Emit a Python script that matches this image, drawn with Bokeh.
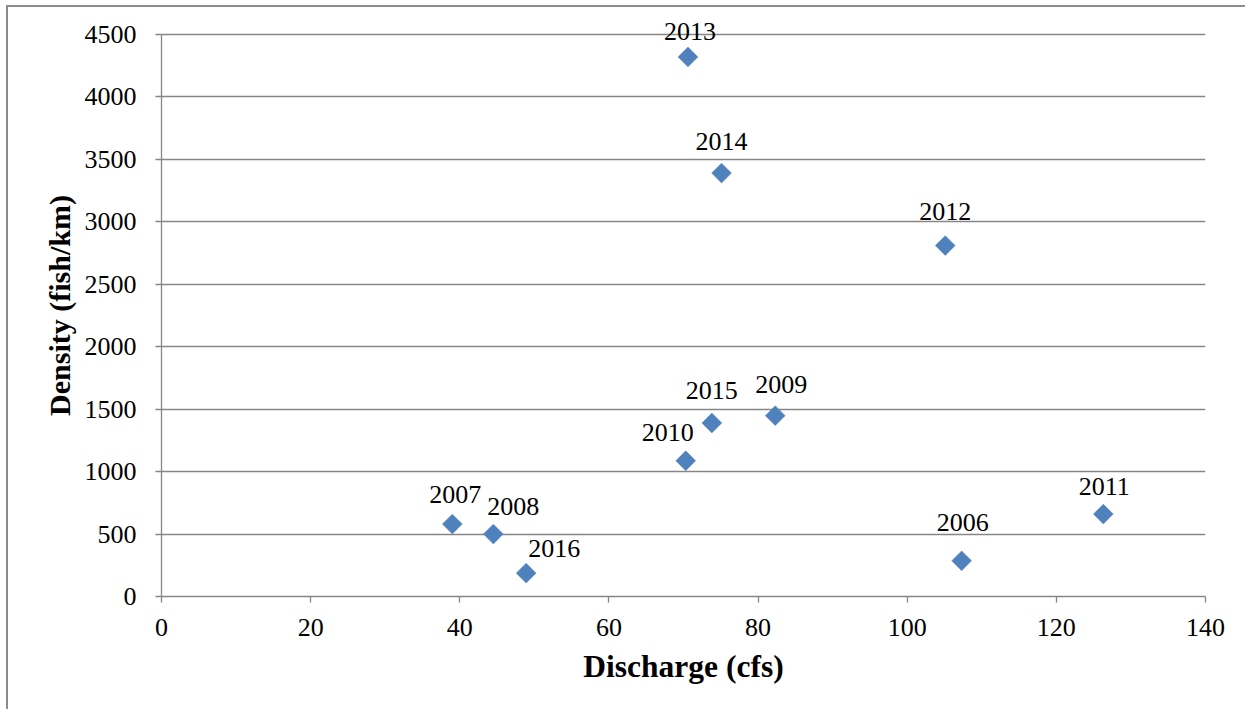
from bokeh.plotting import figure
from bokeh.models import Range1d, SingleIntervalTicker, ColumnDataSource
from bokeh.embed import file_html
from bokeh.resources import INLINE
from bokeh.core.properties import value
import math

# ---- data ----
years = ["2013", "2014", "2012", "2006", "2015", "2009", "2010", "2011", "2007", "2008", "2016"]
discharge = [70.6, 75.1, 105.1, 107.3, 73.8, 82.3, 70.3, 126.3, 39.0, 44.5, 48.9]
density = [4320, 3390, 2810, 286, 1389, 1448, 1087, 660, 580, 500, 187]

# label placement (screen pixels relative to marker, negative = up)
label_dx = [2, 0, 0, 1, 0, 6, -18, 1, 3, 20, 28]
label_dy = [-25, -32, -34, -38, -33, -31, -28, -28, -30, -28, -25]

FONT = "Liberation Serif"
GRAY = "#868686"

src = ColumnDataSource(dict(x=discharge, y=density, t=years, dx=label_dx, dy=label_dy))

# y range extends a little above 4500 so the top label is not clipped;
# the axis itself is bounded to 0..4500
p = figure(width=1245, height=709, output_backend="svg", toolbar_location=None,
           x_range=Range1d(0, 140), y_range=Range1d(0, 4660),
           min_border_left=161, min_border_right=40, min_border_top=14, min_border_bottom=113,
           border_fill_color=None, background_fill_color=None)

p.styles = {
    "background": "linear-gradient(#8c8c8c,#8c8c8c) 6px 5px / 2px 100% no-repeat, "
                  "linear-gradient(#8c8c8c,#8c8c8c) 6px 5px / 100% 2px no-repeat, white",
}

p.outline_line_color = None
p.xgrid.grid_line_color = None
p.ygrid.grid_line_color = GRAY
p.ygrid.grid_line_width = 1.3

p.xaxis.ticker = SingleIntervalTicker(interval=20)
p.yaxis.ticker = SingleIntervalTicker(interval=500)
p.yaxis.bounds = (0, 4500)

for ax in (p.xaxis, p.yaxis):
    ax.axis_line_color = GRAY
    ax.axis_line_width = 1.3
    ax.major_tick_line_color = GRAY
    ax.major_tick_line_width = 1.3
    ax.major_tick_out = 6
    ax.major_tick_in = 0
    ax.minor_tick_line_color = None
    ax.major_label_text_font = FONT
    ax.major_label_text_font_size = "26px"
    ax.major_label_text_color = "black"
    ax.axis_label_text_font = FONT
    ax.axis_label_text_font_style = "bold"
    ax.axis_label_text_color = "black"

p.xaxis.axis_label = "Discharge (cfs)"
p.yaxis.axis_label = "Density (fish/km)"
p.xaxis.axis_label_text_font_size = "31.5px"
p.yaxis.axis_label_text_font_size = "30px"
p.xaxis.major_label_standoff = 16
p.yaxis.major_label_standoff = 19
p.xaxis.axis_label_standoff = 10
p.yaxis.axis_label_standoff = 6

p.scatter("x", "y", source=src, marker="square", angle=math.pi / 4, size=14,
          fill_color="#4F81BD", line_color="#4F81BD", line_width=0.5)

p.text("x", "y", text="t", source=src, x_offset="dx", y_offset="dy",
       text_font=value(FONT), text_font_size="26px", text_color="black",
       text_align="center", text_baseline="middle")

open("out.html", "w").write(file_html(p, INLINE))
